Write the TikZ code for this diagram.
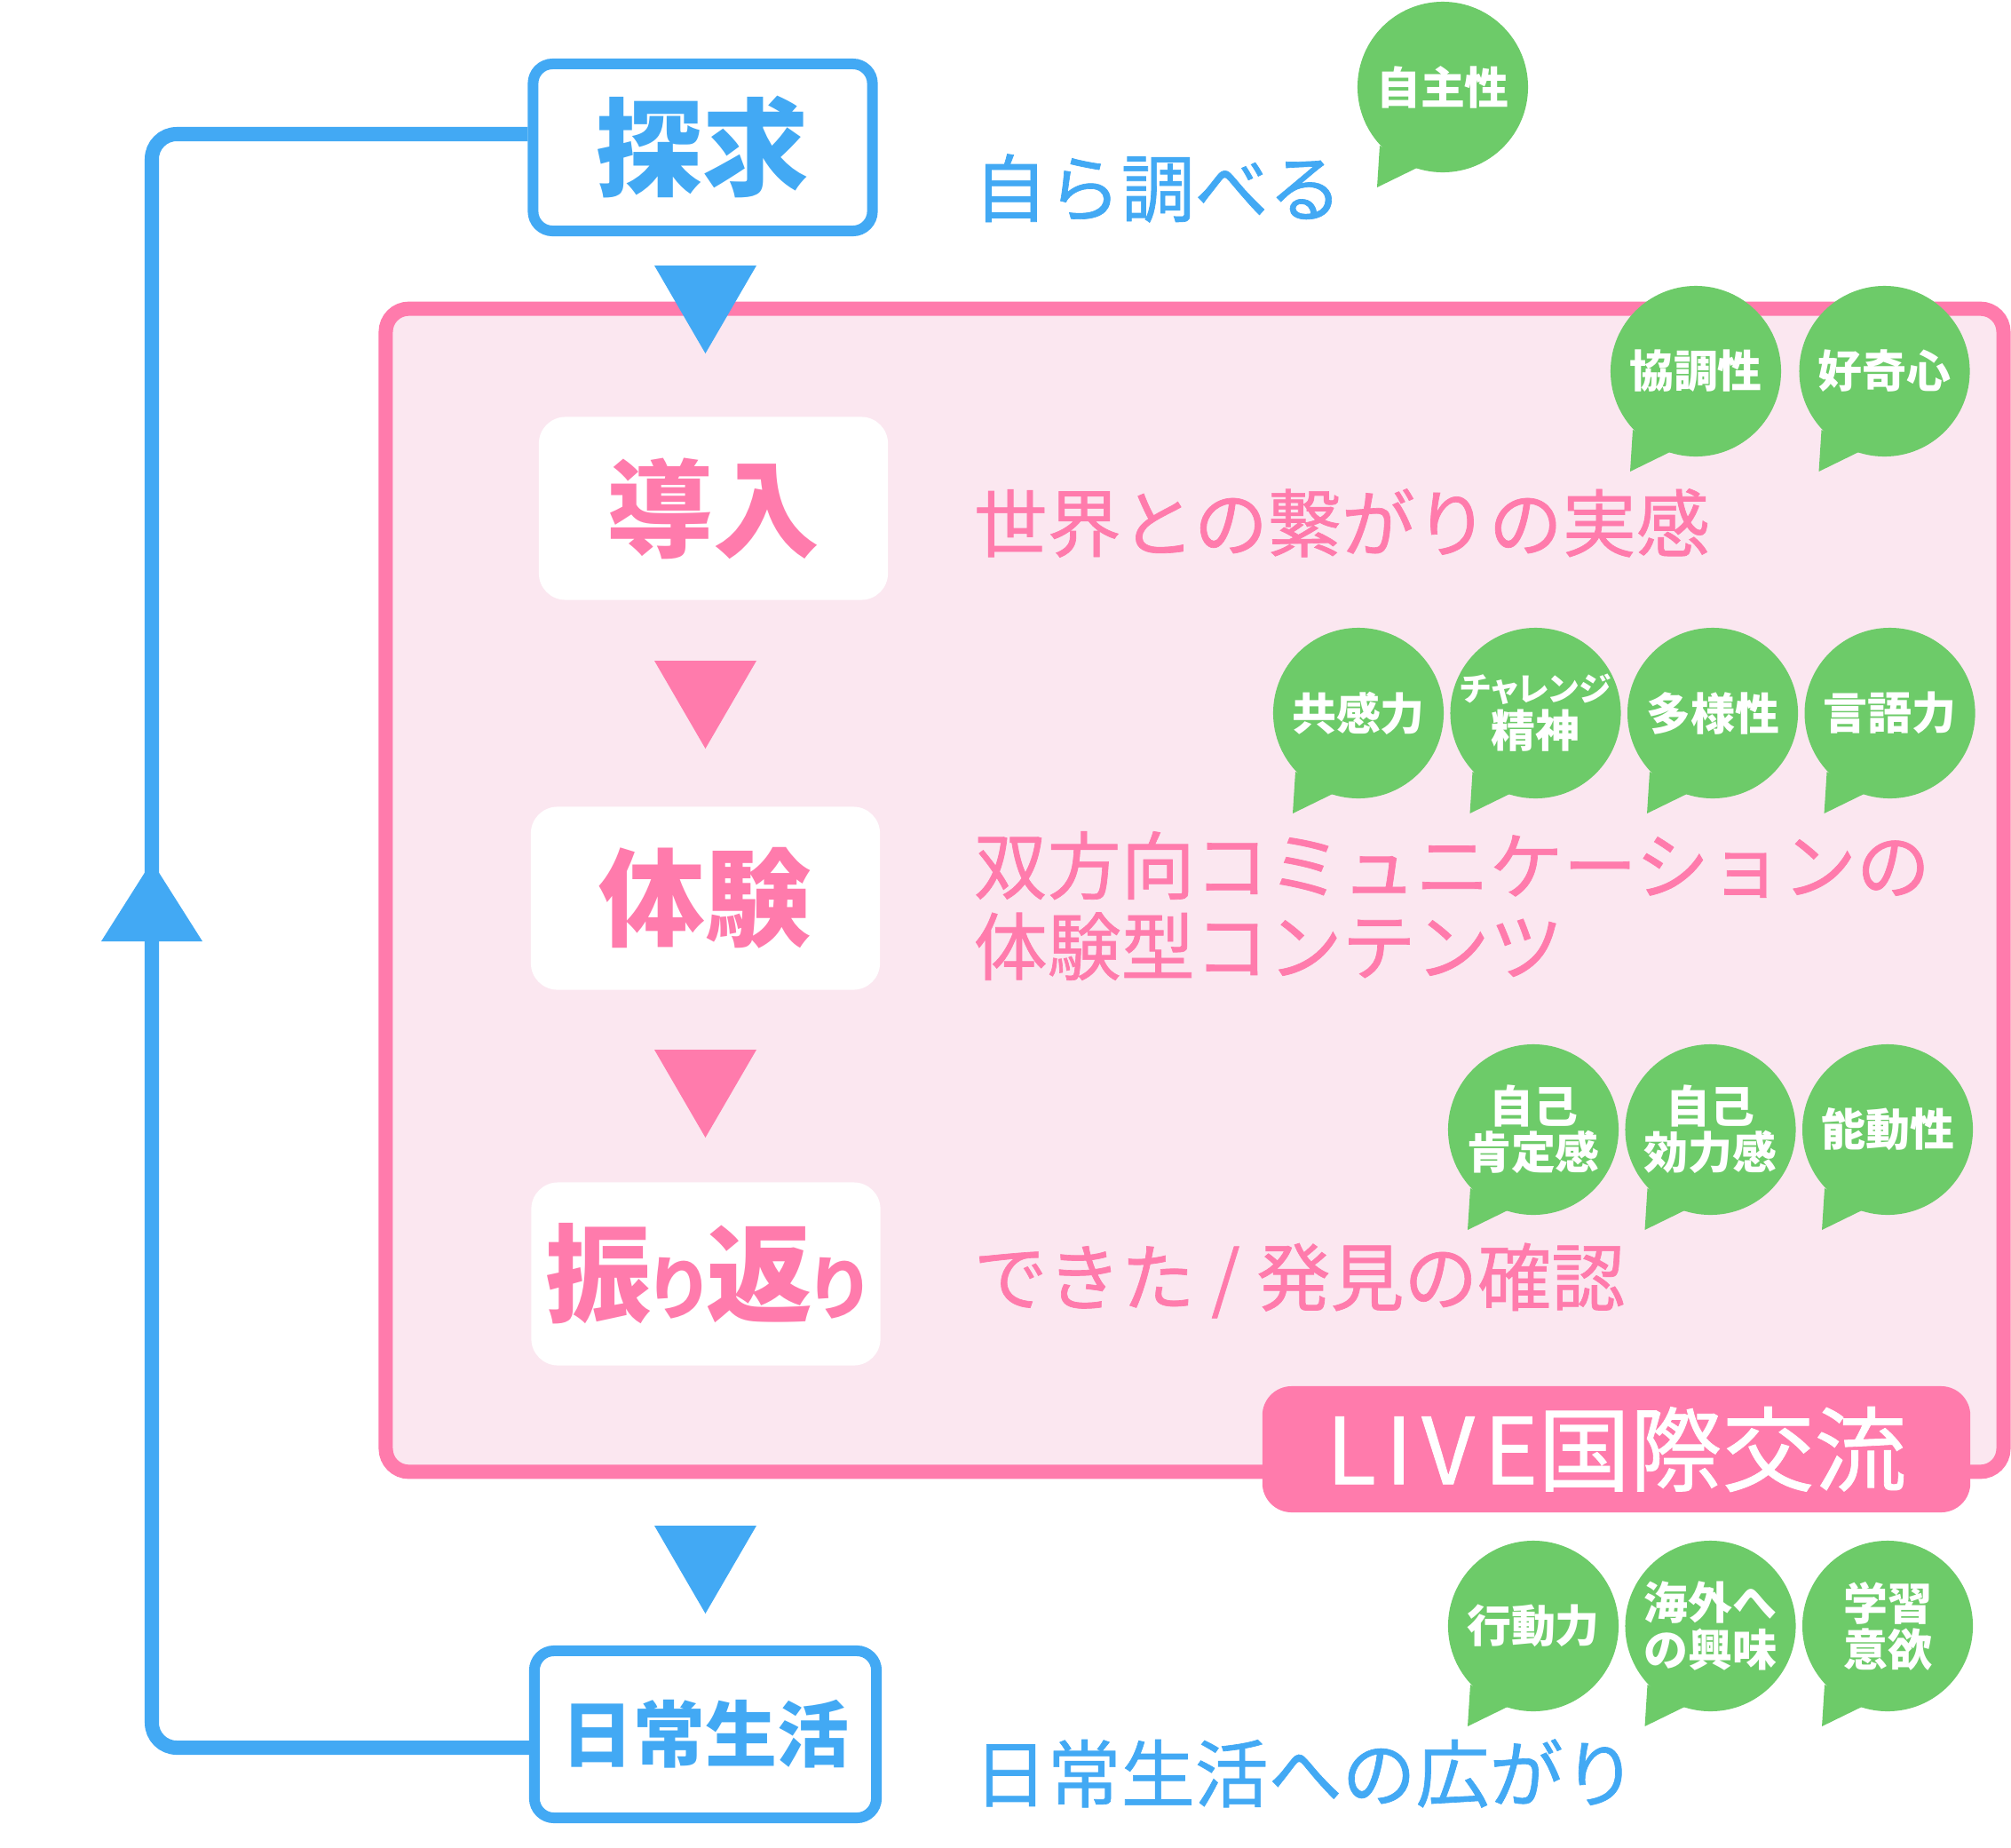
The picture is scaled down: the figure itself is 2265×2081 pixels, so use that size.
\documentclass[tikz,border=0pt]{standalone}
\usepackage{fontspec}
\setmainfont{Noto Sans CJK JP}
\newfontfamily\descfont[FakeBold=0.8]{Noto Sans CJK JP}
\usepackage{xcolor}
\usepackage{tikz}
\usetikzlibrary{positioning}

\definecolor{flowblue}{HTML}{42A9F4}
\definecolor{flowpink}{HTML}{FF7BAC}
\definecolor{panelpink}{HTML}{FBE7F0}
\definecolor{leafgreen}{HTML}{6DCB69}

\newcommand{\smallkana}{\addfontfeature{RawFeature=+palt}\fontsize{22}{22}\selectfont}

\begin{document}
\begin{tikzpicture}[
    x=0.01cm, y=-0.01cm,
    stepframe/.style={rectangle, draw=flowblue, line width=0.12cm, fill=white, rounded corners=0.22cm, minimum width=3.82cm, minimum height=1.88cm, text=flowblue, font=\bfseries\fontsize{34}{34}\selectfont},
    stepbox/.style={rectangle, fill=white, rounded corners=0.3cm, minimum width=3.93cm, minimum height=2.06cm, text=flowpink, font=\bfseries\fontsize{34}{34}\selectfont},
    panel/.style={rectangle, draw=flowpink, fill=panelpink, line width=0.16cm, rounded corners=0.26cm, minimum width=18.21cm, minimum height=13.09cm},
    livetag/.style={rectangle, fill=flowpink, rounded corners=0.33cm, minimum width=7.97cm, minimum height=1.42cm, text=white, font=\descfont\fontsize{29.5}{29.5}\selectfont},
    desc/.style={anchor=west, inner sep=0pt, align=left, font=\descfont\fontsize{23.6}{25.9}\selectfont},
    bubble/.style={circle, fill=leafgreen, minimum size=1.92cm, inner sep=0pt, text=white, align=center, font=\bfseries\fontsize{14.2}{14.8}\selectfont},
    loopline/.style={draw=flowblue, line width=0.16cm, rounded corners=0.28cm}
]
\useasboundingbox (0,0) rectangle (2265,2081);

% LIVE panel
\node [panel] (livepanel) at (1345.5,1002.5) {};

% Steps
\node [stepframe] (tankyu) at (791.5,166) {探求};
\node [stepbox] (donyu) at (803.5,572.5) {導入};
\node [stepbox] (taiken) at (794.5,1011.5) {体験};
\node [stepbox] (furikaeri) at (795,1434.5) {振{\smallkana り}返{\smallkana り}};
\node [stepframe, minimum width=3.85cm, font=\bfseries\fontsize{23}{23}\selectfont] (nichijo) at (794.5,1953) {日常生活};

% Loop back to 探求
\coordinate (loopcorner) at (171,1000);
\draw [loopline] ([yshift=0.15cm]tankyu.west) -| (loopcorner) |- ([yshift=-0.15cm]nichijo.west);
\fill [flowblue] (114,1060) -- (171,970) -- (228,1060) -- cycle;

% Step markers
\foreach \ty/\col in {299/flowblue, 744/flowpink, 1182/flowpink, 1718/flowblue}
    \fill [\col] (737,\ty) -- (852,\ty) -- (794.5,\ty+99) -- cycle;

% Descriptions
\node [desc, text=flowblue] (shiraberu) at (1096,212) {自ら調べる};
\node [desc, text=flowpink] (tsunagari) at (1096,589) {世界との繋がりの実感};
\node [desc, text=flowpink] (sohoko) at (1096,1020) {双方向コミュニケーションの\\体験型コンテンツ};
\node [desc, text=flowpink] (kakunin) at (1096,1442) {できた / 発見の確認};
\node [desc, text=flowblue] (hirogari) at (1096,1997) {日常生活への広がり};

% Label
\node [livetag] (live) at (1820.5,1632) {{\addfontfeature{LetterSpace=10}LIVE}国際交流};

% Bubbles
\node [bubble] (jishusei) at (1625,98) {自主性};

\node [bubble] (kyochosei) at (1910,418) {協調性};
\node [bubble, right=0.19cm of kyochosei] (kokishin) {好奇心};

\node [bubble] (kyokan) at (1530,803) {共感力};
\node [bubble, right=0.06cm of kyokan] (challenge) {{\fontsize{10.5}{12}\selectfont\addfontfeature{RawFeature=+palt}チャレンジ}\\精神};
\node [bubble, right=0.06cm of challenge] (tayosei) {多様性};
\node [bubble, right=0.06cm of tayosei] (gengo) {言語力};

\node [bubble] (kotei) at (1727,1272) {自己\\肯定感};
\node [bubble, right=0.06cm of kotei] (koryoku) {自己\\効力感};
\node [bubble, right=0.06cm of koryoku] (nodosei) {能動性};

\node [bubble] (kodo) at (1727,1831) {行動力};
\node [bubble, right=0.06cm of kodo] (kaigai) {海外へ\\の興味};
\node [bubble, right=0.06cm of kaigai] (gakushu) {学習\\意欲};

% Bubble tails
\foreach \b in {jishusei, kyochosei, kokishin, kyokan, challenge, tayosei, gengo, kotei, koryoku, nodosei, kodo, kaigai, gakushu}
    \fill [leafgreen] ([shift={(-71,66)}]\b.center) -- ([shift={(-74,113)}]\b.center) -- ([shift={(-29,91)}]\b.center) -- cycle;

\end{tikzpicture}
\end{document}
